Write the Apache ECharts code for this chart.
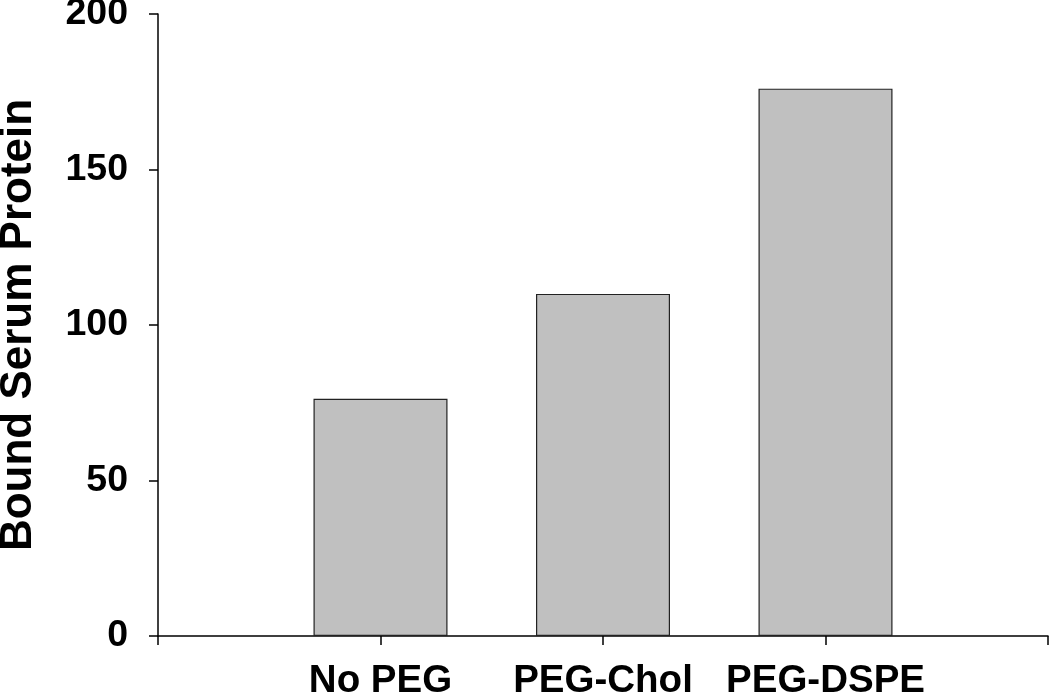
<!DOCTYPE html>
<html>
<head>
<meta charset="utf-8">
<script src="https://cdn.jsdelivr.net/npm/echarts@6/dist/echarts.min.js"></script>
<style>
html,body{margin:0;padding:0;background:#fff;}
#chart{width:1050px;height:697px;}
</style>
</head>
<body>
<div id="chart"></div>
<script>
var categories = ['', 'No PEG', 'PEG-Chol', 'PEG-DSPE', ''];
var boundProtein = [null, 76.3, 110, 176, null];
var yTicks = [0, 50, 100, 150, 200];
var yTitle = 'Bound Serum Protein';

var FONT = '"Liberation Sans", Arial, Helvetica, sans-serif';
var chart = echarts.init(document.getElementById('chart'));
chart.setOption({
  animation: false,
  backgroundColor: '#ffffff',
  grid: { left: 158, right: 2, top: 14, bottom: 61, containLabel: false, outerBoundsMode: 'none' },
  xAxis: {
    type: 'category',
    data: categories,
    boundaryGap: false,
    axisLine: { show: true, lineStyle: { color: '#000', width: 1.5 } },
    axisTick: { show: true, length: 9, interval: 0, lineStyle: { color: '#000', width: 1.5 } },
    axisLabel: { interval: 0, margin: 26, color: '#000', fontSize: 38.5, fontWeight: 'bold', fontFamily: FONT },
    splitLine: { show: false }
  },
  yAxis: {
    type: 'value',
    min: yTicks[0],
    max: yTicks[yTicks.length - 1],
    interval: 50,
    name: yTitle,
    nameLocation: 'middle',
    nameGap: 117,
    nameTextStyle: { color: '#000', fontSize: 44, fontWeight: 'bold', fontFamily: FONT },
    axisLine: { show: true, lineStyle: { color: '#000', width: 1.5 } },
    axisTick: { show: true, length: 9, lineStyle: { color: '#000', width: 1.5 } },
    axisLabel: { margin: 30, color: '#000', fontSize: 37.5, fontWeight: 'bold', fontFamily: FONT },
    splitLine: { show: false }
  },
  series: [{
    type: 'bar',
    data: boundProtein,
    barWidth: 134,
    itemStyle: { color: '#c0c0c0', borderColor: '#222', borderWidth: 1.2 }
  }]
});
</script>
</body>
</html>
